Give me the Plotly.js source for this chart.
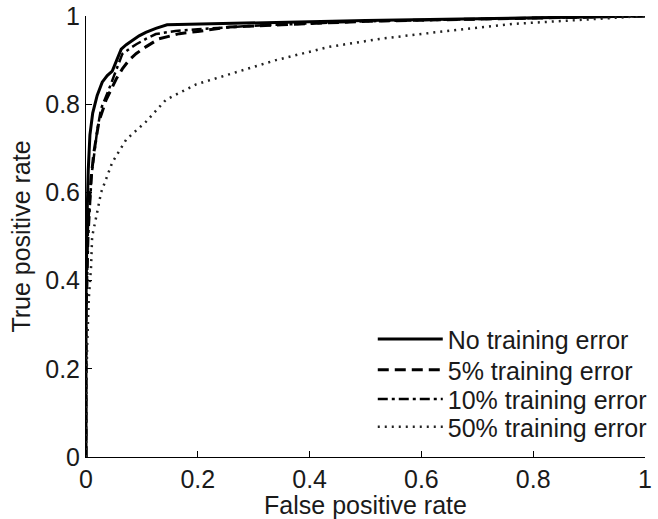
<!DOCTYPE html>
<html>
<head>
<meta charset="utf-8">
<script src="https://cdn.plot.ly/plotly-3.0.1.min.js"></script>
<style>html,body{margin:0;padding:0;background:#fff;}#chart{width:658px;height:519px;}</style>
</head>
<body>
<div id="chart"></div>
<script>
// Series names
const seriesNames = ["No training error", "5% training error", "10% training error", "50% training error"];

// No training error
const fprNoErr = [0, 0, 0.002, 0.004, 0.007, 0.012, 0.02, 0.029, 0.038, 0.047, 0.055, 0.063, 0.072, 0.083, 0.095, 0.107, 0.125, 0.145, 0.3, 0.5, 0.7, 0.9, 1];
const tprNoErr = [0, 0.35, 0.55, 0.65, 0.73, 0.78, 0.82, 0.85, 0.865, 0.875, 0.9, 0.925, 0.935, 0.945, 0.955, 0.963, 0.972, 0.98, 0.985, 0.99, 0.994, 0.998, 1];

// 5% training error
const fpr5 = [0, 0, 0.003, 0.009, 0.014, 0.023, 0.036, 0.045, 0.054, 0.065, 0.077, 0.09, 0.107, 0.13, 0.167, 0.2, 0.256, 0.35, 0.5, 0.7, 0.9, 1];
const tpr5 = [0, 0.3, 0.52, 0.63, 0.69, 0.76, 0.81, 0.835, 0.857, 0.88, 0.9, 0.915, 0.93, 0.948, 0.96, 0.965, 0.975, 0.98, 0.988, 0.993, 0.998, 1];

// 10% training error
const fpr10 = [0, 0, 0.004, 0.01, 0.02, 0.027, 0.041, 0.052, 0.065, 0.078, 0.09, 0.107, 0.125, 0.16, 0.2, 0.3, 0.5, 0.7, 0.9, 1];
const tpr10 = [0, 0.3, 0.5, 0.64, 0.74, 0.79, 0.834, 0.87, 0.914, 0.926, 0.936, 0.948, 0.959, 0.966, 0.97, 0.978, 0.988, 0.993, 0.998, 1];

// 50% training error
const fpr50 = [0, 0, 0.002, 0.005, 0.009, 0.011, 0.02, 0.027, 0.047, 0.072, 0.107, 0.143, 0.197, 0.256, 0.34, 0.435, 0.525, 0.645, 0.763, 0.883, 1];
const tpr50 = [0, 0.1, 0.25, 0.36, 0.43, 0.5, 0.555, 0.6, 0.668, 0.72, 0.76, 0.81, 0.845, 0.868, 0.9, 0.93, 0.948, 0.966, 0.982, 0.991, 1];

// Tick values / labels
const tickVals = [0, 0.2, 0.4, 0.6, 0.8, 1];
const tickText = ["0", "0.2", "0.4", "0.6", "0.8", "1"];

const FONT = "Liberation Sans, Arial, Helvetica, sans-serif";
const TXT = "#1a1a1a";
const FS = 25;

const traces = [
  {x: fprNoErr, y: tprNoErr, name: seriesNames[0], legend: "legend",
   line: {color: "#000", width: 3, dash: "solid"}},
  {x: fpr5, y: tpr5, name: seriesNames[1], legend: "legend2",
   line: {color: "#000", width: 3, dash: "11px,6px"}},
  {x: fpr10, y: tpr10, name: seriesNames[2], legend: "legend3",
   line: {color: "#000", width: 2.5, dash: "10px,4px,3px,4px"}},
  {x: fpr50, y: tpr50, name: seriesNames[3], legend: "legend4",
   line: {color: "#222", width: 2.5, dash: "2px,5px"}}
].map(t => Object.assign({type: "scatter", mode: "lines", hoverinfo: "skip"}, t));

function leg(y) {
  return {x: 0.513, xanchor: "left", y: y, yanchor: "middle", bgcolor: "rgba(0,0,0,0)",
    borderwidth: 0, font: {family: FONT, size: FS, color: TXT}, itemwidth: 65};
}

const axisBase = {
  range: [0, 1], tickvals: tickVals, ticktext: tickText,
  showgrid: false, zeroline: false, showline: true, linecolor: "#000", linewidth: 1,
  ticks: "inside", ticklen: 6, tickcolor: "#000", tickwidth: 1, mirror: false,
  tickfont: {family: FONT, size: FS, color: TXT}, fixedrange: true
};

const layout = {
  width: 658, height: 519,
  margin: {l: 86, r: 13, t: 16, b: 62, autoexpand: false},
  paper_bgcolor: "#fff", plot_bgcolor: "#fff",
  showlegend: true,
  xaxis: Object.assign({}, axisBase, {title: {text: "False positive rate", font: {family: FONT, size: FS, color: TXT}, standoff: 0}}),
  yaxis: Object.assign({}, axisBase, {title: {text: "True positive rate", font: {family: FONT, size: FS, color: TXT}, standoff: 7}}),
  legend: leg(0.267),
  legend2: leg(0.197),
  legend3: leg(0.131),
  legend4: leg(0.068)
};

Plotly.newPlot("chart", traces, layout, {staticPlot: true, displayModeBar: false});
</script>
</body>
</html>
